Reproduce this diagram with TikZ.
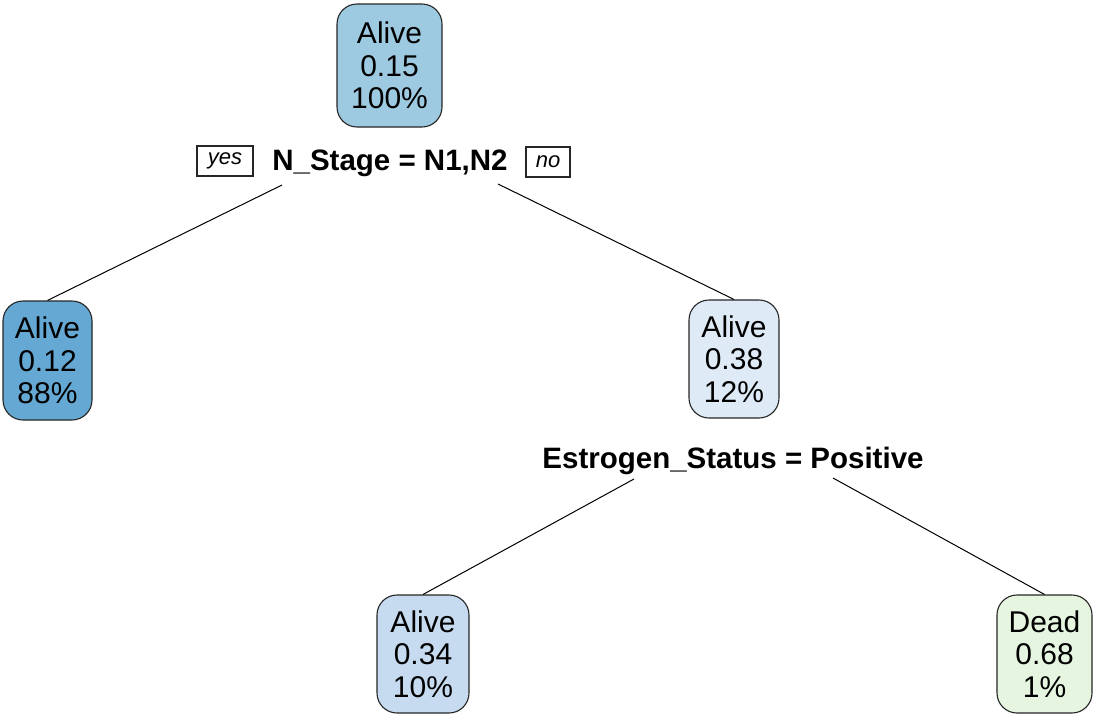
\documentclass[tikz,border=0pt]{standalone}
\usepackage{fontspec}
\setmainfont{Liberation Sans}
\definecolor{nodeA}{RGB}{158,202,225}
\definecolor{nodeB}{RGB}{100,168,211}
\definecolor{nodeC}{RGB}{222,235,247}
\definecolor{nodeD}{RGB}{198,219,239}
\definecolor{nodeE}{RGB}{229,245,224}
\begin{document}
\begin{tikzpicture}[x=1pt,y=-1pt,
  leaf/.style={draw=black!85, line width=1.1pt, rounded corners=20pt, inner sep=0pt,
    align=center, font=\fontsize{30}{32.5}\selectfont},
  split/.style={inner sep=0pt, font=\bfseries\fontsize{29.5}{32}\selectfont},
  tag/.style={draw=black!85, line width=1.1pt, inner sep=0pt, minimum height=30pt,
    font=\itshape\fontsize{22}{24}\selectfont},
  branch/.style={draw=black, line width=1pt}]
\useasboundingbox (0,0) rectangle (1094,715);

% tree boxes
\node[leaf, fill=nodeA, minimum width=105pt, minimum height=123pt] (root) at (389.5,65.5) {Alive\\0.15\\100\%};
\node[leaf, fill=nodeB, minimum width=89pt, minimum height=119pt] (left) at (47.5,360.5) {Alive\\0.12\\88\%};
\node[leaf, fill=nodeC, minimum width=90pt, minimum height=118pt] (right) at (734,359) {Alive\\0.38\\12\%};
\node[leaf, fill=nodeD, minimum width=92pt, minimum height=118pt] (rl) at (423,654) {Alive\\0.34\\10\%};
\node[leaf, fill=nodeE, minimum width=95pt, minimum height=118pt] (rr) at (1044.5,654) {Dead\\0.68\\1\%};

% split labels
\node[split] (s1) at (390,163) {N\_Stage = N1,N2};
\node[split] (s2) at (733,461) {Estrogen\_Status = Positive};
\node[tag, minimum width=56pt] (yes) at (225,161) {yes};
\node[tag, minimum width=44pt] (no) at (548,162) {no};

% branch start points below the split labels
\coordinate (b1) at (282,185);
\coordinate (b2) at (498,184);
\coordinate (b3) at (634,479);
\coordinate (b4) at (833,478);

\draw[branch] (b1) -- (left.north);
\draw[branch] (b2) -- (right.north);
\draw[branch] (b3) -- (rl.north);
\draw[branch] (b4) -- (rr.north);
\end{tikzpicture}
\end{document}
